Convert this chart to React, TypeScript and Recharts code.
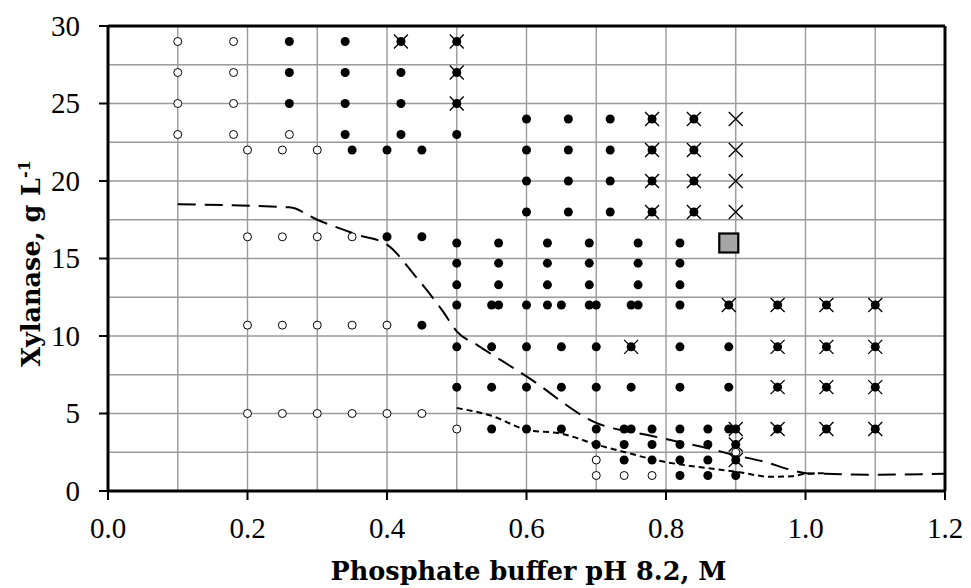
import { CartesianGrid, ReferenceLine, Scatter, ScatterChart, XAxis, YAxis } from "recharts";

// axis ticks: gridlines every 0.1 / 2.5, labels only on the major ones
const xTicks = [0, 0.1, 0.2, 0.3, 0.4, 0.5, 0.6, 0.7, 0.8, 0.9, 1.0, 1.1, 1.2];
const yTicks = [0, 2.5, 5, 7.5, 10, 12.5, 15, 17.5, 20, 22.5, 25, 27.5, 30];

// no growth (open circles)
const openPoints = [
  { x: 0.1, y: 29 }, { x: 0.1, y: 27 }, { x: 0.1, y: 25 }, { x: 0.1, y: 23 },
  { x: 0.18, y: 29 }, { x: 0.18, y: 27 }, { x: 0.18, y: 25 }, { x: 0.18, y: 23 },
  { x: 0.26, y: 23 },
  { x: 0.2, y: 22 }, { x: 0.25, y: 22 }, { x: 0.3, y: 22 },
  { x: 0.2, y: 16.4 }, { x: 0.25, y: 16.4 }, { x: 0.3, y: 16.4 }, { x: 0.35, y: 16.4 },
  { x: 0.2, y: 10.7 }, { x: 0.25, y: 10.7 }, { x: 0.3, y: 10.7 }, { x: 0.35, y: 10.7 }, { x: 0.4, y: 10.7 },
  { x: 0.2, y: 5 }, { x: 0.25, y: 5 }, { x: 0.3, y: 5 }, { x: 0.35, y: 5 }, { x: 0.4, y: 5 }, { x: 0.45, y: 5 },
  { x: 0.5, y: 4 },
  { x: 0.7, y: 2 },
  { x: 0.7, y: 1 }, { x: 0.74, y: 1 }, { x: 0.78, y: 1 },
  { x: 0.9, y: 2.5 }
];

// crystals (filled circles)
const filledPoints = [
  { x: 0.26, y: 29 }, { x: 0.34, y: 29 }, { x: 0.42, y: 29 }, { x: 0.5, y: 29 },
  { x: 0.26, y: 27 }, { x: 0.34, y: 27 }, { x: 0.42, y: 27 }, { x: 0.5, y: 27 },
  { x: 0.26, y: 25 }, { x: 0.34, y: 25 }, { x: 0.42, y: 25 }, { x: 0.5, y: 25 },
  { x: 0.34, y: 23 }, { x: 0.42, y: 23 }, { x: 0.5, y: 23 },
  { x: 0.35, y: 22 }, { x: 0.4, y: 22 }, { x: 0.45, y: 22 },
  { x: 0.6, y: 24 }, { x: 0.66, y: 24 }, { x: 0.72, y: 24 }, { x: 0.78, y: 24 }, { x: 0.84, y: 24 },
  { x: 0.6, y: 22 }, { x: 0.66, y: 22 }, { x: 0.72, y: 22 }, { x: 0.78, y: 22 }, { x: 0.84, y: 22 },
  { x: 0.6, y: 20 }, { x: 0.66, y: 20 }, { x: 0.72, y: 20 }, { x: 0.78, y: 20 }, { x: 0.84, y: 20 },
  { x: 0.6, y: 18 }, { x: 0.66, y: 18 }, { x: 0.72, y: 18 }, { x: 0.78, y: 18 }, { x: 0.84, y: 18 },
  { x: 0.4, y: 16.4 }, { x: 0.45, y: 16.4 },
  { x: 0.5, y: 16 }, { x: 0.56, y: 16 }, { x: 0.63, y: 16 }, { x: 0.69, y: 16 }, { x: 0.76, y: 16 }, { x: 0.82, y: 16 },
  { x: 0.5, y: 14.7 }, { x: 0.56, y: 14.7 }, { x: 0.63, y: 14.7 }, { x: 0.69, y: 14.7 }, { x: 0.76, y: 14.7 }, { x: 0.82, y: 14.7 },
  { x: 0.5, y: 13.3 }, { x: 0.56, y: 13.3 }, { x: 0.63, y: 13.3 }, { x: 0.69, y: 13.3 }, { x: 0.76, y: 13.3 }, { x: 0.82, y: 13.3 },
  { x: 0.5, y: 12 }, { x: 0.55, y: 12 }, { x: 0.56, y: 12 }, { x: 0.6, y: 12 }, { x: 0.63, y: 12 }, { x: 0.65, y: 12 },
  { x: 0.69, y: 12 }, { x: 0.7, y: 12 }, { x: 0.75, y: 12 }, { x: 0.76, y: 12 }, { x: 0.82, y: 12 }, { x: 0.89, y: 12 },
  { x: 0.96, y: 12 }, { x: 1.03, y: 12 }, { x: 1.1, y: 12 },
  { x: 0.45, y: 10.7 },
  { x: 0.5, y: 9.3 }, { x: 0.55, y: 9.3 }, { x: 0.6, y: 9.3 }, { x: 0.65, y: 9.3 }, { x: 0.7, y: 9.3 }, { x: 0.75, y: 9.3 },
  { x: 0.82, y: 9.3 }, { x: 0.89, y: 9.3 }, { x: 0.96, y: 9.3 }, { x: 1.03, y: 9.3 }, { x: 1.1, y: 9.3 },
  { x: 0.5, y: 6.7 }, { x: 0.55, y: 6.7 }, { x: 0.6, y: 6.7 }, { x: 0.65, y: 6.7 }, { x: 0.7, y: 6.7 }, { x: 0.75, y: 6.7 },
  { x: 0.82, y: 6.7 }, { x: 0.89, y: 6.7 }, { x: 0.96, y: 6.7 }, { x: 1.03, y: 6.7 }, { x: 1.1, y: 6.7 },
  { x: 0.55, y: 4 }, { x: 0.6, y: 4 }, { x: 0.65, y: 4 }, { x: 0.7, y: 4 }, { x: 0.74, y: 4 }, { x: 0.75, y: 4 },
  { x: 0.78, y: 4 }, { x: 0.82, y: 4 }, { x: 0.86, y: 4 }, { x: 0.89, y: 4 }, { x: 0.9, y: 4 },
  { x: 0.96, y: 4 }, { x: 1.03, y: 4 }, { x: 1.1, y: 4 },
  { x: 0.7, y: 3 }, { x: 0.74, y: 3 }, { x: 0.78, y: 3 }, { x: 0.82, y: 3 }, { x: 0.86, y: 3 }, { x: 0.9, y: 3 },
  { x: 0.74, y: 2 }, { x: 0.78, y: 2 }, { x: 0.82, y: 2 }, { x: 0.86, y: 2 }, { x: 0.9, y: 2 },
  { x: 0.82, y: 1 }, { x: 0.86, y: 1 }, { x: 0.9, y: 1 }
];

// precipitate (crosses)
const crossPoints = [
  { x: 0.42, y: 29 }, { x: 0.5, y: 29 }, { x: 0.5, y: 27 }, { x: 0.5, y: 25 },
  { x: 0.78, y: 24 }, { x: 0.84, y: 24 }, { x: 0.9, y: 24 },
  { x: 0.78, y: 22 }, { x: 0.84, y: 22 }, { x: 0.9, y: 22 },
  { x: 0.78, y: 20 }, { x: 0.84, y: 20 }, { x: 0.9, y: 20 },
  { x: 0.78, y: 18 }, { x: 0.84, y: 18 }, { x: 0.9, y: 18 },
  { x: 0.89, y: 12 }, { x: 0.96, y: 12 }, { x: 1.03, y: 12 }, { x: 1.1, y: 12 },
  { x: 0.75, y: 9.3 }, { x: 0.96, y: 9.3 }, { x: 1.03, y: 9.3 }, { x: 1.1, y: 9.3 },
  { x: 0.96, y: 6.7 }, { x: 1.03, y: 6.7 }, { x: 1.1, y: 6.7 },
  { x: 0.9, y: 4 }, { x: 0.96, y: 4 }, { x: 1.03, y: 4 }, { x: 1.1, y: 4 },
  { x: 0.9, y: 3 }, { x: 0.9, y: 2 }
];

const squarePoints = [{ x: 0.89, y: 16 }];

// solubility curves
const dashedCurve = [
  { x: 0.1, y: 18.5 }, { x: 0.26, y: 18.3 }, { x: 0.3, y: 17.5 }, { x: 0.36, y: 16.5 }, { x: 0.4, y: 15.9 },
  { x: 0.44, y: 13.9 }, { x: 0.48, y: 11.6 }, { x: 0.5, y: 10.3 }, { x: 0.53, y: 9.4 }, { x: 0.6, y: 7.4 },
  { x: 0.7, y: 4.4 }, { x: 0.78, y: 3.55 }, { x: 0.86, y: 2.75 }, { x: 0.9, y: 2.3 }, { x: 0.94, y: 1.9 },
  { x: 0.98, y: 1.35 }, { x: 1.0, y: 1.15 }, { x: 1.04, y: 1.1 }, { x: 1.1, y: 1.05 }, { x: 1.2, y: 1.12 }
];

const dottedCurve = [
  { x: 0.5, y: 5.35 }, { x: 0.55, y: 4.85 }, { x: 0.6, y: 3.95 }, { x: 0.65, y: 3.7 }, { x: 0.7, y: 3.0 },
  { x: 0.75, y: 2.4 }, { x: 0.78, y: 2.05 }, { x: 0.86, y: 1.47 }, { x: 0.9, y: 1.25 }, { x: 0.95, y: 0.92 },
  { x: 0.98, y: 0.95 }, { x: 1.0, y: 1.1 }, { x: 1.03, y: 1.15 }
];

const tickFont = { fontFamily: "'Liberation Serif', serif", fontSize: 29, fill: "#000" };
const titleFont = { fontFamily: "'DejaVu Serif', serif", fontSize: 25.5, fontWeight: 700, fill: "#000" };

function XTick(props: any) {
  const { x, y, payload } = props;
  const v = payload.value as number;
  if (Math.round(v * 10) % 2 !== 0) return <g />;
  return (
    <g>
      <line x1={x} x2={x} y1={y} y2={y + 9} stroke="#000" strokeWidth={2} />
      <text x={x} y={y + 47} textAnchor="middle" {...tickFont}>
        {v.toFixed(1)}
      </text>
    </g>
  );
}

function YTick(props: any) {
  const { x, y, payload } = props;
  const v = payload.value as number;
  if (v % 5 !== 0) return <g />;
  return (
    <g>
      <line x1={x - 9} x2={x} y1={y} y2={y} stroke="#000" strokeWidth={2} />
      <text x={x - 28} y={y} dy="0.34em" textAnchor="end" {...tickFont}>
        {v}
      </text>
    </g>
  );
}

function XTitle(props: any) {
  const vb = props.viewBox;
  return (
    <text x={vb.x + vb.width / 2 + 2} y={vb.y + 89} textAnchor="middle" {...titleFont}>
      Phosphate buffer pH 8.2, M
    </text>
  );
}

function YTitle(props: any) {
  const vb = props.viewBox;
  const cy = vb.y + vb.height / 2 + 5;
  return (
    <text transform={`translate(40, ${cy}) rotate(-90)`} textAnchor="middle" {...titleFont}>
      Xylanase, g L
      <tspan dy={-10} fontSize={16}>-1</tspan>
    </text>
  );
}

const OpenDot = (p: any) => <circle cx={p.cx} cy={p.cy} r={4} fill="#fff" stroke="#000" strokeWidth={1} />;
const FilledDot = (p: any) => <circle cx={p.cx} cy={p.cy} r={4.5} fill="#000" />;
const Cross = (p: any) => (
  <path
    d={`M${p.cx - 7},${p.cy - 7}L${p.cx + 7},${p.cy + 7}M${p.cx - 7},${p.cy + 7}L${p.cx + 7},${p.cy - 7}`}
    stroke="#000"
    strokeWidth={1.3}
    fill="none"
  />
);
const Square = (p: any) => (
  <rect x={p.cx - 9.5} y={p.cy - 9.5} width={19} height={19} fill="#a6a6a6" stroke="#000" strokeWidth={2.2} />
);
const NoDot = () => <g />;

export default function App() {
  return (
    <div style={{ position: "absolute", left: 0, top: 0, width: 971, height: 588, background: "#fff" }}>
      <ScatterChart width={971} height={588} margin={{ top: 26, right: 26, bottom: 0, left: 0 }}>
        <CartesianGrid stroke="#9a9a9a" strokeWidth={1.4} />
        <XAxis
          type="number"
          dataKey="x"
          domain={[0, 1.2]}
          ticks={xTicks}
          interval={0}
          tick={(p: any) => <XTick {...p} />}
          tickSize={0}
          tickMargin={0}
          tickLine={false}
          axisLine={{ stroke: "#000", strokeWidth: 3 }}
          height={97}
          label={(p: any) => <XTitle {...p} />}
        />
        <YAxis
          type="number"
          dataKey="y"
          domain={[0, 30]}
          ticks={yTicks}
          interval={0}
          tick={(p: any) => <YTick {...p} />}
          tickSize={0}
          tickMargin={0}
          tickLine={false}
          axisLine={{ stroke: "#000", strokeWidth: 3 }}
          width={108}
          label={(p: any) => <YTitle {...p} />}
        />
        <ReferenceLine y={30} stroke="#000" strokeWidth={3} />
        <ReferenceLine x={1.2} stroke="#000" strokeWidth={3} />
        <Scatter
          data={dashedCurve}
          shape={NoDot}
          line={{ stroke: "#000", strokeWidth: 2, strokeDasharray: "18 9" }}
          lineJointType="monotoneX"
          isAnimationActive={false}
        />
        <Scatter
          data={dottedCurve}
          shape={NoDot}
          line={{ stroke: "#000", strokeWidth: 2, strokeDasharray: "6 4" }}
          lineJointType="monotoneX"
          isAnimationActive={false}
        />
        <Scatter data={openPoints} shape={OpenDot} isAnimationActive={false} />
        <Scatter data={filledPoints} shape={FilledDot} isAnimationActive={false} />
        <Scatter data={crossPoints} shape={Cross} isAnimationActive={false} />
        <Scatter data={squarePoints} shape={Square} isAnimationActive={false} />
      </ScatterChart>
    </div>
  );
}
